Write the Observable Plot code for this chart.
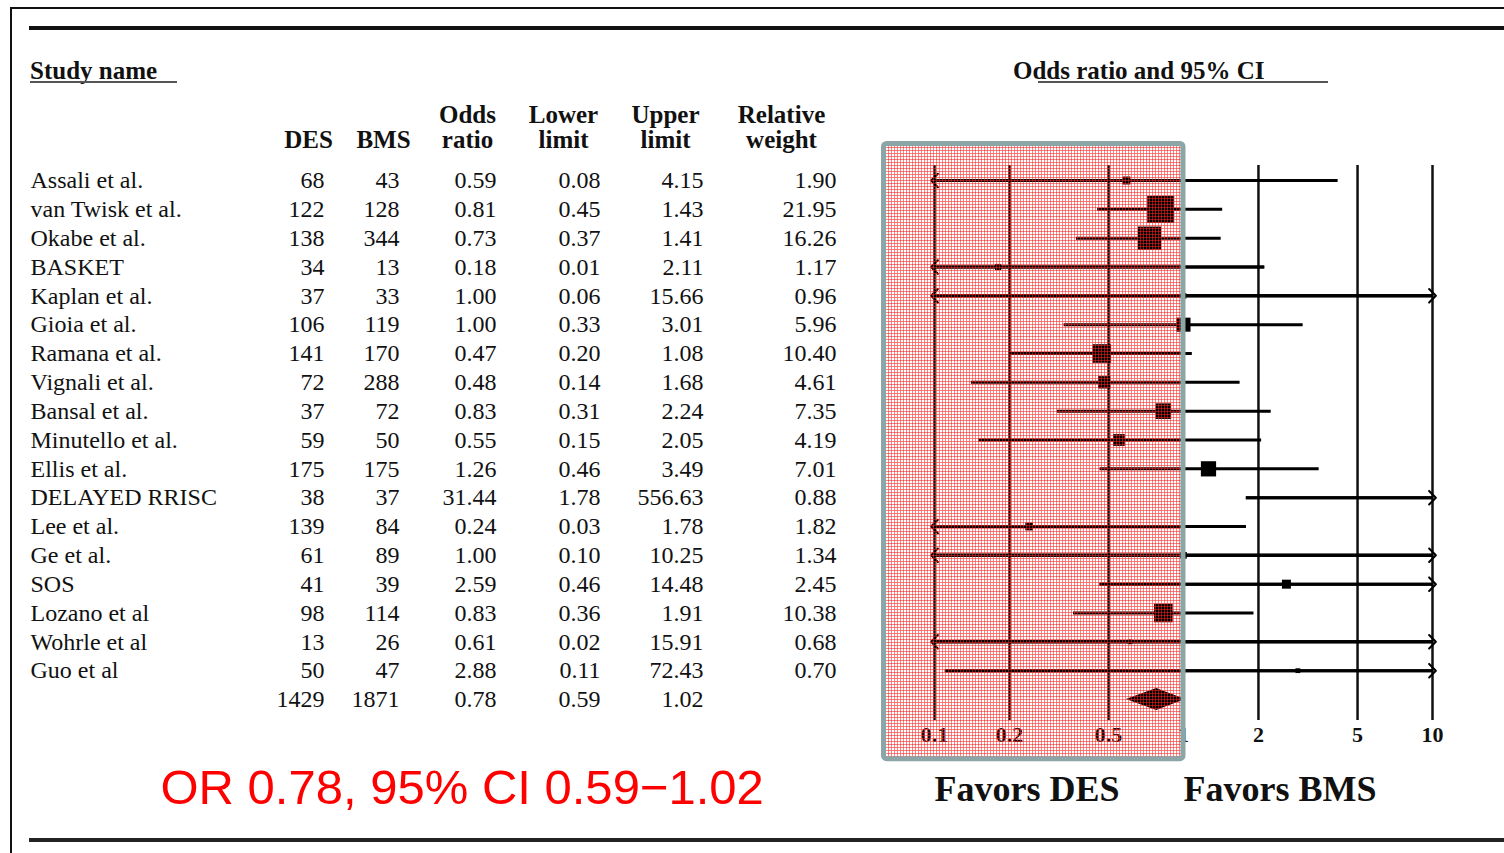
<!DOCTYPE html>
<html><head><meta charset="utf-8">
<script src="https://cdn.jsdelivr.net/npm/d3@7"></script>
<script src="https://cdn.jsdelivr.net/npm/@observablehq/plot@0.6"></script>
<style>
html,body{margin:0;padding:0;background:#fff;overflow:hidden;}
#page{position:relative;width:1504px;height:853px;overflow:hidden;background:#fff;}
#chart{position:absolute;left:0;top:0;}
.hl{position:absolute;}
.title{position:absolute;font-family:"Liberation Serif",serif;font-weight:bold;font-size:25px;color:#111;line-height:1;white-space:nowrap;}
</style></head><body>
<div id="page">
  <div id="chart"></div>
  <div class="hl" style="left:10px;top:7px;width:1494px;height:2px;background:#111;"></div>
  <div class="hl" style="left:10px;top:7px;width:2px;height:846px;background:#111;"></div>
  <div class="hl" style="left:29px;top:26px;width:1475px;height:4px;background:#111;"></div>
  <div class="hl" style="left:29px;top:838px;width:1475px;height:4px;background:#222;"></div>
  <div class="title" style="left:30px;top:58px;">Study name</div>
  <div class="hl" style="left:30px;top:81px;width:147px;height:2px;background:#555;"></div>
  <div class="title" style="left:1013px;top:58px;">Odds ratio and 95% CI</div>
  <div class="hl" style="left:1038px;top:81px;width:290px;height:2px;background:#555;"></div>
</div>
<script>
// ---- data ----
const studies = ["Assali et al.", "van Twisk et al.", "Okabe et al.", "BASKET", "Kaplan et al.", "Gioia et al.", "Ramana et al.", "Vignali et al.", "Bansal et al.", "Minutello et al.", "Ellis et al.", "DELAYED RRISC", "Lee et al.", "Ge et al.", "SOS", "Lozano et al", "Wohrle et al", "Guo et al"];
const des = [68, 122, 138, 34, 37, 106, 141, 72, 37, 59, 175, 38, 139, 61, 41, 98, 13, 50];
const bms = [43, 128, 344, 13, 33, 119, 170, 288, 72, 50, 175, 37, 84, 89, 39, 114, 26, 47];
const oddsRatio = [0.59, 0.81, 0.73, 0.18, 1.00, 1.00, 0.47, 0.48, 0.83, 0.55, 1.26, 31.44, 0.24, 1.00, 2.59, 0.83, 0.61, 2.88];
const lowerLimit = [0.08, 0.45, 0.37, 0.01, 0.06, 0.33, 0.20, 0.14, 0.31, 0.15, 0.46, 1.78, 0.03, 0.10, 0.46, 0.36, 0.02, 0.11];
const upperLimit = [4.15, 1.43, 1.41, 2.11, 15.66, 3.01, 1.08, 1.68, 2.24, 2.05, 3.49, 556.63, 1.78, 10.25, 14.48, 1.91, 15.91, 72.43];
const relativeWeight = [1.90, 21.95, 16.26, 1.17, 0.96, 5.96, 10.40, 4.61, 7.35, 4.19, 7.01, 0.88, 1.82, 1.34, 2.45, 10.38, 0.68, 0.70];
const totalDES = 1429, totalBMS = 1871, totalOR = 0.78, totalLower = 0.59, totalUpper = 1.02;
const columnHeaders = ["DES", "BMS", "Odds\nratio", "Lower\nlimit", "Upper\nlimit", "Relative\nweight"];
const axisTicks = [0.1, 0.2, 0.5, 1, 2, 5, 10];
const favorsLabels = ["Favors DES", "Favors BMS"];

// ---- derived table ----
const X_MIN = 0.1, X_MAX = 10;
const rows = studies.map((name, i) => ({i, name, des: des[i], bms: bms[i], or: oddsRatio[i], lo: lowerLimit[i], hi: upperLimit[i], w: relativeWeight[i]}));
const totalIndex = studies.length;
const allRows = [...rows, {i: totalIndex, name: "", des: totalDES, bms: totalBMS, or: totalOR, lo: totalLower, hi: totalUpper, w: null}];
const ci = rows.map(d => ({...d, x1: Math.max(d.lo, X_MIN), x2: Math.min(d.hi, X_MAX), cutLo: d.lo <= X_MIN, cutHi: d.hi >= X_MAX}));

// ---- layout ----
const int = d => String(d), f2 = d => d.toFixed(2);
const colLayout = [
  {key: "des", right: 324, center: 308, fmt: int},
  {key: "bms", right: 399, center: 383, fmt: int},
  {key: "or", right: 496, center: 467, fmt: f2},
  {key: "lo", right: 600, center: 563, fmt: f2},
  {key: "hi", right: 703, center: 665, fmt: f2},
  {key: "w", right: 836, center: 781, fmt: f2}
];
const favorsBox = [{x1: 0.0627, x2: 1, y1: -1.27, y2: 20.07}];

const marks = [];
// table
marks.push(Plot.text(allRows, {y: "i", text: "name", frameAnchor: "left", dx: 30, textAnchor: "start", fontSize: 24}));
colLayout.forEach((c, k) => {
  marks.push(Plot.text(allRows.filter(d => d[c.key] != null), {y: "i", text: d => c.fmt(d[c.key]), frameAnchor: "left", dx: c.right, textAnchor: "end", fontSize: 24}));
  marks.push(Plot.text([columnHeaders[k]], {text: d => d, frameAnchor: "top-left", dx: c.center, dy: -18, textAnchor: "middle", lineAnchor: "bottom", lineHeight: 1.0, fontSize: 25, fontWeight: "bold"}));
});
// forest
marks.push(Plot.ruleX(axisTicks, {stroke: "#111", strokeWidth: 2.5}));
const lineOpts = {y1: "i", y2: "i", stroke: "#000", strokeWidth: 3};
marks.push(Plot.link(ci, {...lineOpts, x1: "x1", x2: "x2"}));
// truncated intervals: arrowheads pointing outward at the clipped end
marks.push(Plot.link(ci.filter(d => d.cutHi), {...lineOpts, x1: "x1", x2: "x2", markerEnd: "arrow"}));
marks.push(Plot.link(ci.filter(d => d.cutLo), {...lineOpts, x1: "x2", x2: "x1", markerEnd: "arrow"}));
marks.push(Plot.dot(ci.filter(d => d.or >= X_MIN && d.or <= X_MAX), {x: "or", y: "i", r: "w", symbol: "square", fill: "#000"}));
const diamond = [
  {x: totalLower, y1: totalIndex, y2: totalIndex},
  {x: totalOR, y1: totalIndex - 0.38, y2: totalIndex + 0.38},
  {x: totalUpper, y1: totalIndex, y2: totalIndex}
];
marks.push(Plot.areaY(diamond, {x: "x", y1: "y1", y2: "y2", fill: "#000"}));
marks.push(Plot.text(axisTicks, {x: d => d, text: d => String(d), frameAnchor: "bottom", dy: 6, lineAnchor: "top", fontSize: 22, fontWeight: "bold"}));
marks.push(Plot.rect(favorsBox, {x1: "x1", x2: "x2", y1: "y1", y2: "y2", fill: "url(#pinkgrid)"}));
marks.push(Plot.rect(favorsBox, {x1: "x1", x2: "x2", y1: "y1", y2: "y2", fill: "none", stroke: "#8ca5a6", strokeWidth: 5, rx: 3}));
marks.push(Plot.text(favorsLabels.map((t, k) => ({t, x: k === 0 ? X_MIN : 1})), {x: "x", text: "t", frameAnchor: "bottom", dy: 80, textAnchor: "start", lineAnchor: "bottom", fontSize: 36, fontWeight: "bold"}));
const summaryLabel = `OR ${totalOR.toFixed(2)}, 95% CI ${totalLower.toFixed(2)}\u2212${totalUpper.toFixed(2)}`;
marks.push(Plot.text([summaryLabel], {text: d => d, frameAnchor: "bottom-left", dx: 160, dy: 83, textAnchor: "start", lineAnchor: "bottom", fontSize: 49, fill: "#ff0000", fontFamily: "Liberation Sans, Arial, sans-serif"}));

const svg = Plot.plot({
  width: 1504, height: 853,
  marginTop: 165, marginBottom: 133, marginLeft: 0, marginRight: 0,
  style: {fontFamily: "'Liberation Serif', 'Times New Roman', serif", fontSize: "24px", background: "transparent", color: "#111", overflow: "visible"},
  x: {type: "log", domain: [X_MIN, X_MAX], range: [934, 1432], axis: null},
  y: {domain: [0, totalIndex], range: [180, 699], axis: null},
  r: {type: "sqrt", domain: [0, 21.95], range: [0, 15.2]},
  marks
});
// slightly larger, thinner arrowheads like the original
d3.select(svg).selectAll("marker").attr("markerWidth", 7.5).attr("markerHeight", 7.5).attr("stroke-width", 0.9);
// pink grid pattern for the "Favors DES" region
const defs = d3.select(svg).insert("defs", ":first-child");
const pat = defs.append("pattern").attr("id", "pinkgrid").attr("patternUnits", "userSpaceOnUse").attr("width", 3).attr("height", 3);
pat.append("path").attr("d", "M0,0.5H3M0.5,0V3").attr("stroke", "#ff2020").attr("stroke-opacity", 0.55).attr("stroke-width", 1).attr("fill", "none");
document.getElementById("chart").appendChild(svg);
</script>
</body></html>
